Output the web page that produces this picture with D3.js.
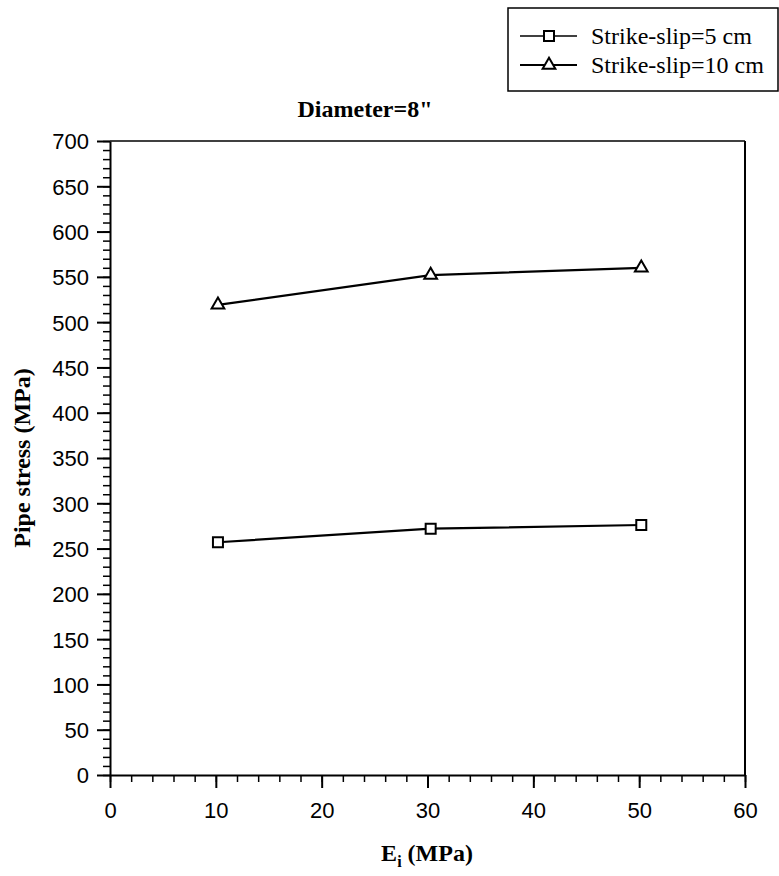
<!DOCTYPE html>
<html>
<head>
<meta charset="utf-8">
<script src="https://cdn.jsdelivr.net/npm/d3@7"></script>
<style>
  body { margin: 0; background: #fff; }
  svg { display: block; }
</style>
</head>
<body>
<div id="chart"></div>
<script>
  // data
  var eValues = [10.2, 30.3, 50.2];
  var slip5 = [257, 272, 276];
  var slip10 = [519, 552, 560];
  var seriesNames = ["Strike-slip=5 cm", "Strike-slip=10 cm"];
  var xTicks = [0, 10, 20, 30, 40, 50, 60];
  var yTicks = [0, 50, 100, 150, 200, 250, 300, 350, 400, 450, 500, 550, 600, 650, 700];

  var W = 779, H = 876;
  var margin = {top: 141, right: 34, bottom: 101, left: 110},
      width = W - margin.left - margin.right,
      height = H - margin.top - margin.bottom;

  var svg = d3.select("#chart")
    .append("svg")
      .attr("width", W)
      .attr("height", H);

  var g = svg.append("g")
      .attr("transform", "translate(" + margin.left + "," + margin.top + ")");

  var x = d3.scaleLinear().domain([0, 60]).range([0, width]);
  var y = d3.scaleLinear().domain([0, 700]).range([height, 0]);

  // frame top + right
  g.append("line").attr("x1", 0).attr("x2", width).attr("y1", 0).attr("y2", 0)
    .attr("stroke", "#000").attr("stroke-width", 1.5);
  g.append("line").attr("x1", width).attr("x2", width).attr("y1", 0).attr("y2", height)
    .attr("stroke", "#000").attr("stroke-width", 2);

  // minor ticks
  g.append("g")
    .attr("transform", "translate(0," + height + ")")
    .call(d3.axisBottom(x).tickValues(d3.range(0, 61, 2)).tickSize(7).tickFormat(""))
    .call(function(a) { a.select(".domain").remove(); a.selectAll("line").attr("stroke-width", 1.5); });
  g.append("g")
    .call(d3.axisLeft(y).tickValues(d3.range(0, 701, 10)).tickSize(7).tickFormat(""))
    .call(function(a) { a.select(".domain").remove(); a.selectAll("line").attr("stroke-width", 1.5); });

  // major ticks and labels
  var xAxis = g.append("g")
    .attr("transform", "translate(0," + height + ")")
    .call(d3.axisBottom(x).tickValues(xTicks).tickSize(13).tickSizeOuter(0).tickPadding(14));
  var yAxis = g.append("g")
    .call(d3.axisLeft(y).tickValues(yTicks).tickSize(13).tickSizeOuter(0).tickPadding(8));

  [xAxis, yAxis].forEach(function(a) {
    a.select(".domain").attr("stroke-width", 2);
    a.selectAll(".tick line").attr("stroke-width", 2);
    a.selectAll("text")
      .style("font-family", "'Liberation Sans', Arial, sans-serif")
      .style("font-size", "22px")
      .attr("fill", "#000");
  });
  yAxis.selectAll("text").attr("dy", "0.36em");

  // lines
  var line = d3.line()
    .x(function(d, i) { return x(eValues[i]); })
    .y(function(d) { return y(d); });

  [slip5, slip10].forEach(function(s) {
    g.append("path")
      .datum(s)
      .attr("d", line)
      .attr("fill", "none")
      .attr("stroke", "#000")
      .attr("stroke-width", 2.2);
  });

  var sq = d3.symbol().type(d3.symbolSquare).size(100);
  var tri = d3.symbol().type(d3.symbolTriangle).size(70);

  g.selectAll(".sq")
    .data(slip5)
    .enter().append("path")
      .attr("transform", function(d, i) { return "translate(" + x(eValues[i]) + "," + y(d) + ")"; })
      .attr("d", sq)
      .attr("fill", "#fff")
      .attr("stroke", "#000")
      .attr("stroke-width", 2);

  g.selectAll(".tri")
    .data(slip10)
    .enter().append("path")
      .attr("transform", function(d, i) { return "translate(" + x(eValues[i]) + "," + y(d) + ")"; })
      .attr("d", tri)
      .attr("fill", "#fff")
      .attr("stroke", "#000")
      .attr("stroke-width", 2);

  // titles
  svg.append("text")
    .attr("x", 365).attr("y", 117)
    .attr("text-anchor", "middle")
    .style("font-family", "'Liberation Serif', 'Times New Roman', serif")
    .style("font-weight", "bold")
    .style("font-size", "24px")
    .text("Diameter=8\"");

  svg.append("text")
    .attr("transform", "translate(30,458) rotate(-90)")
    .attr("text-anchor", "middle")
    .style("font-family", "'Liberation Serif', 'Times New Roman', serif")
    .style("font-weight", "bold")
    .style("font-size", "24px")
    .text("Pipe stress (MPa)");

  var xt = svg.append("text")
    .attr("x", 427).attr("y", 861)
    .attr("text-anchor", "middle")
    .style("font-family", "'Liberation Serif', 'Times New Roman', serif")
    .style("font-weight", "bold")
    .style("font-size", "24px");
  xt.append("tspan").text("E");
  xt.append("tspan").attr("dy", 6).style("font-size", "16px").text("i");
  xt.append("tspan").attr("dy", -6).text(" (MPa)");

  // legend
  var leg = svg.append("g");
  leg.append("rect")
    .attr("x", 508).attr("y", 8)
    .attr("width", 270).attr("height", 83)
    .attr("fill", "#fff")
    .attr("stroke", "#000")
    .attr("stroke-width", 1.5);

  var legY = [36, 65];
  var legSym = [sq, tri];
  seriesNames.forEach(function(name, i) {
    leg.append("line")
      .attr("x1", 520).attr("x2", 577)
      .attr("y1", legY[i]).attr("y2", legY[i])
      .attr("stroke", "#000")
      .attr("stroke-width", i == 0 ? 1.5 : 2);
    leg.append("path")
      .attr("transform", "translate(549," + legY[i] + ")")
      .attr("d", legSym[i])
      .attr("fill", "#fff")
      .attr("stroke", "#000")
      .attr("stroke-width", 2);
    leg.append("text")
      .attr("x", 591).attr("y", legY[i] + 8)
      .style("font-family", "'Liberation Serif', 'Times New Roman', serif")
      .style("font-size", "24px")
      .text(name);
  });
</script>
</body>
</html>
